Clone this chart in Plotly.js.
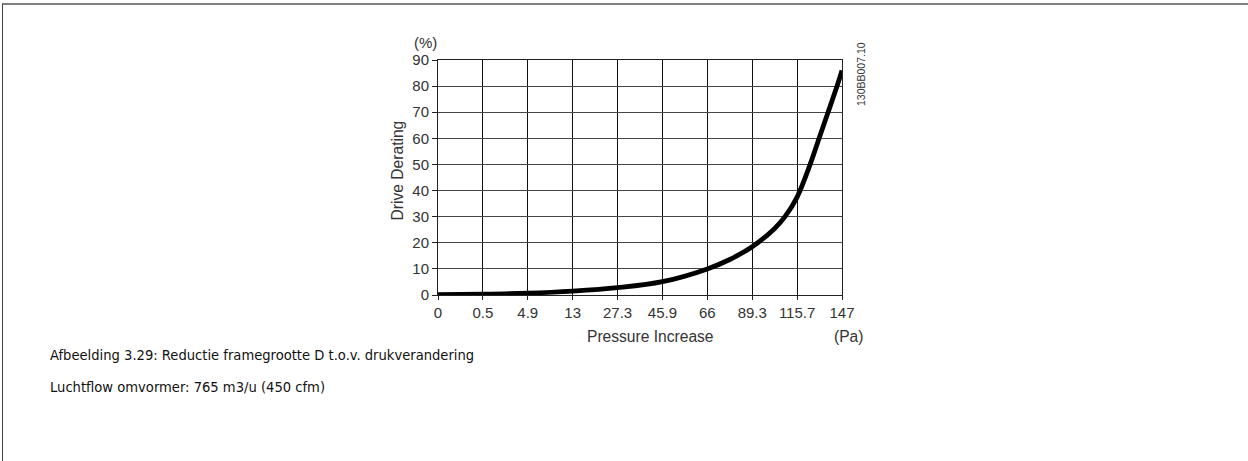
<!DOCTYPE html>
<html>
<head>
<meta charset="utf-8">
<script src="https://cdn.plot.ly/plotly-3.0.1.min.js"></script>
<style>
  body { margin: 0; background: #fff; }
  #wrap { position: relative; width: 1248px; height: 461px; overflow: hidden; }
  #frame { position: absolute; left: 2px; top: 3px; right: 0; bottom: 0; border-top: 2px solid #808080; border-left: 1px solid #404040; }
  #chart { position: absolute; left: 0; top: 0; }
  .cap { position: absolute; left: 50px; font-family: "DejaVu Sans Condensed", "DejaVu Sans", sans-serif; font-size: 14.6px; color: #111; white-space: nowrap; }
</style>
</head>
<body>
<div id="wrap">
  <div id="frame"></div>
  <div id="chart"></div>
  <div class="cap" style="top:346px">Afbeelding 3.29: Reductie framegrootte D t.o.v. drukverandering</div>
  <div class="cap" style="top:378px">Luchtflow omvormer: 765 m3/u (450 cfm)</div>
</div>
<script>
// Tick labels of the pressure axis (equally spaced on the chart)
const pressureTicks = ["0", "0.5", "4.9", "13", "27.3", "45.9", "66", "89.3", "115.7", "147"];
const tickPositions = [0, 1, 2, 3, 4, 5, 6, 7, 8, 9];
// Curve readings: position along the tick scale, derating in %
const curvePos = [0, 1, 2, 3, 4, 5, 6, 6.5, 7, 7.5, 7.73, 8, 8.29, 8.49, 8.69, 8.89, 9];
const curveDerating = [0.1, 0.3, 0.7, 1.5, 2.8, 5.1, 10, 13.6, 18.5, 25.5, 30, 37.5, 50, 60, 70, 80, 86];
const yTicks = [0, 10, 20, 30, 40, 50, 60, 70, 80, 90];

const tickFont = { family: "Liberation Sans, Arial, sans-serif", size: 15, color: "#333" };
const titleFont = { family: "Liberation Sans, Arial, sans-serif", size: 15.6, color: "#333" };

const trace = {
  x: curvePos, y: curveDerating, type: "scatter", mode: "lines",
  line: { color: "#000", width: 4.8, shape: "spline", smoothing: 1 },
  hoverinfo: "skip", cliponaxis: false
};

const layout = {
  width: 1248, height: 461,
  margin: { l: 438, r: 406, t: 60, b: 166 },
  paper_bgcolor: "rgba(0,0,0,0)", plot_bgcolor: "#fff",
  showlegend: false,
  xaxis: {
    range: [0, 9], tickvals: tickPositions, ticktext: pressureTicks,
    showgrid: true, gridcolor: "#111", gridwidth: 1,
    showline: true, linecolor: "#222", linewidth: 1, mirror: true,
    ticks: "outside", ticklen: 4, tickcolor: "#222",
    tickfont: tickFont, zeroline: false, fixedrange: true
  },
  yaxis: {
    range: [0, 90], tickvals: yTicks,
    showgrid: true, gridcolor: "#444", gridwidth: 1,
    showline: true, linecolor: "#222", linewidth: 1, mirror: true,
    ticks: "outside", ticklen: 5, tickcolor: "#222",
    tickfont: tickFont, zeroline: false, fixedrange: true
  },
  annotations: [
    { text: "(%)", xref: "paper", yref: "paper", x: -0.03, y: 1.0, yshift: 18, showarrow: false, xanchor: "center", yanchor: "middle", font: tickFont },
    { text: "Drive Derating", xref: "paper", yref: "paper", x: -0.098, y: 0.532, showarrow: false, textangle: -90, xanchor: "center", yanchor: "middle", font: titleFont },
    { text: "Pressure Increase", xref: "paper", yref: "paper", x: 0.526, y: 0, yshift: -41, showarrow: false, xanchor: "center", yanchor: "middle", font: titleFont },
    { text: "(Pa)", xref: "paper", yref: "paper", x: 1.0, xshift: 6.5, y: 0, yshift: -41, showarrow: false, xanchor: "center", yanchor: "middle", font: titleFont },
    { text: "130BB007.10", xref: "paper", yref: "paper", x: 1.0, xshift: 19, y: 1.0, yshift: -14, showarrow: false, textangle: -90, xanchor: "center", yanchor: "middle", font: { family: "Liberation Sans, Arial, sans-serif", size: 10.5, color: "#333" } }
  ]
};

Plotly.newPlot("chart", [trace], layout, { displayModeBar: false, staticPlot: true });
</script>
</body>
</html>
